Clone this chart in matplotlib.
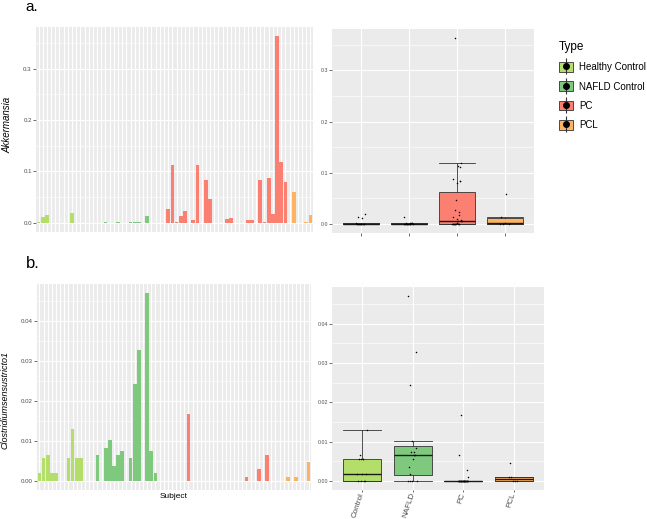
import matplotlib
matplotlib.use('Agg')
import matplotlib.pyplot as plt
from matplotlib.patches import Patch
from matplotlib.lines import Line2D
from matplotlib.legend_handler import HandlerTuple
from matplotlib.ticker import MultipleLocator, FormatStrFormatter
import numpy as np

plt.rcParams['font.family'] = ['Liberation Sans', 'DejaVu Sans']

# groups, in subject order
types = ['Healthy Control', 'NAFLD Control', 'PC', 'PCL']
type_sizes = [13, 16, 31, 6]
box_labels = ['Control', 'NAFLD', 'PC', 'PCL']
colors = ['#B3DE69', '#7FC97F', '#FB8072', '#FDB462']

# relative abundance per subject (66 subjects)
akkermansia = [
    # healthy control
    0.002, 0.012, 0.014, 0, 0, 0, 0, 0, 0.019, 0, 0, 0, 0,
    # NAFLD control
    0, 0, 0, 0.002, 0, 0, 0.001, 0, 0, 0.002, 0.002, 0.002, 0, 0.013, 0, 0,
    # PC
    0, 0, 0.027, 0.112, 0.002, 0.013, 0.022, 0, 0.005, 0.113, 0, 0.083, 0.046,
    0, 0, 0, 0.008, 0.009, 0, 0, 0, 0.005, 0.006, 0, 0.083, 0.002, 0.088,
    0.017, 0.363, 0.119, 0.079,
    # PCL
    0, 0.059, 0, 0, 0.001, 0.014,
]
clostridium = [
    # healthy control
    0.0018, 0.0056, 0.0065, 0.0018, 0.0018, 0, 0, 0.0056, 0.013, 0.0056, 0.0056, 0, 0,
    # NAFLD control
    0, 0.0065, 0, 0.0083, 0.0102, 0.0036, 0.0065, 0.0074, 0, 0.0056, 0.0243, 0.0327,
    0, 0.047, 0.0074, 0.0018,
    # PC
    0, 0, 0, 0, 0, 0, 0, 0.0168, 0, 0,
    0, 0, 0, 0, 0, 0, 0, 0, 0, 0,
    0, 0.0009, 0, 0, 0.0028, 0, 0.0065, 0, 0, 0,
    0,
    # PCL
    0.0009, 0, 0.0009, 0, 0, 0.0046,
]

subject_type = np.repeat(np.arange(len(types)), type_sizes)

W, H = 647, 519
fig = plt.figure(figsize=(W / 100, H / 100), dpi=100)


def px_axes(x0, y0, x1, y1):
    return fig.add_axes([x0 / W, 1 - y1 / H, (x1 - x0) / W, (y1 - y0) / H])


def gg_style(ax, fs):
    ax.set_facecolor('#EBEBEB')
    for s in ax.spines.values():
        s.set_visible(False)
    ax.grid(which='major', color='white', lw=0.8)
    ax.grid(which='minor', axis='y', color='white', lw=0.4)
    ax.set_axisbelow(True)
    ax.tick_params(which='major', length=2, width=0.5, color='#333333',
                   labelsize=fs, labelcolor='#4D4D4D', pad=1)
    ax.tick_params(which='minor', length=0)


def bar_panel(ax, values, step, fmt):
    values = np.array(values)
    x = np.arange(len(values))
    ax.bar(x, values, width=0.9, color=[colors[t] for t in subject_type], zorder=2)
    ax.set_xlim(-0.6, len(values) - 0.4)
    top = values.max()
    ax.set_ylim(-0.05 * top, 1.05 * top)
    ax.set_xticks(x)
    ax.set_xticklabels([])
    gg_style(ax, 4.4)
    ax.tick_params(axis='x', length=0)
    ax.yaxis.set_major_locator(MultipleLocator(step))
    ax.yaxis.set_minor_locator(MultipleLocator(step / 2))
    ax.yaxis.set_major_formatter(FormatStrFormatter(fmt))


def box_panel(ax, values, step, fmt):
    values = np.array(values)
    groups = [values[subject_type == k] for k in range(len(types))]
    pos = np.arange(1, len(types) + 1)
    bp = ax.boxplot(groups, positions=pos, widths=0.75, capwidths=0.75,
                    patch_artist=True, showfliers=False, whis=1.5,
                    medianprops=dict(color='#1A1A1A', lw=1.0),
                    boxprops=dict(edgecolor='#333333', lw=0.6),
                    whiskerprops=dict(color='#333333', lw=0.6),
                    capprops=dict(color='#333333', lw=0.6))
    for patch, c in zip(bp['boxes'], colors):
        patch.set_facecolor(c)
        patch.set_zorder(2)
    for p, g in zip(pos, groups):
        offs = ((np.arange(len(g)) * 0.618) % 1 - 0.5) * 0.2
        ax.scatter(p + offs, g, s=1.2, c='black', zorder=4, linewidths=0)
    ax.set_xlim(0.4, len(types) + 0.6)
    top, bot = values.max(), values.min()
    pad = 0.05 * (top - bot)
    ax.set_ylim(bot - pad, top + pad)
    ax.set_xticks(pos)
    gg_style(ax, 3.8)
    ax.yaxis.set_major_locator(MultipleLocator(step))
    ax.yaxis.set_minor_locator(MultipleLocator(step / 2))
    ax.yaxis.set_major_formatter(FormatStrFormatter(fmt))


# a.
ax1 = px_axes(36, 27, 313, 232)
bar_panel(ax1, akkermansia, 0.1, '%.1f')
ax2 = px_axes(332, 29, 534, 233)
box_panel(ax2, akkermansia, 0.1, '%.1f')
ax2.set_xticklabels([])

# b.
ax3 = px_axes(37, 284, 311, 490)
bar_panel(ax3, clostridium, 0.01, '%.2f')
ax4 = px_axes(332, 287, 544, 490)
box_panel(ax4, clostridium, 0.01, '%.2f')
ax4.set_xticklabels(box_labels, rotation=72, ha='right', va='center',
                    rotation_mode='anchor', fontsize=5.8, color='#4D4D4D')
ax4.tick_params(axis='x', pad=0.5, length=1.5)

fig.text(25 / W, 1 - 11 / H, 'a.', fontsize=11, va='baseline')
fig.text(26 / W, 1 - 268 / H, 'b.', fontsize=12, va='baseline')
fig.text(7 / W, 1 - 125 / H, 'Akkermansia', rotation=90, ha='center', va='center',
         fontsize=7, style='italic')
fig.text(5 / W, 1 - 400 / H, 'Clostridiumsensustricto1', rotation=90, ha='center',
         va='center', fontsize=6.5, style='italic')
fig.text(174 / W, 1 - 497 / H, 'Subject', ha='center', va='center', fontsize=6)

handles = [(Patch(facecolor='#EBEBEB', edgecolor='none'),
            Patch(facecolor=c, edgecolor='#333333', lw=0.6),
            Line2D([], [], marker='|', ms=12, mew=0.8, color='#333333', ls='None'),
            Line2D([], [], marker='o', ms=4, color='black', ls='None'))
           for c in colors]
fig.legend(handles=handles, labels=types, handler_map={tuple: HandlerTuple(ndivide=1)},
           title='Type', loc='upper left', bbox_to_anchor=(554 / W, 1 - 36 / H),
           frameon=False, fontsize=7, title_fontsize=8.5, handlelength=1.5,
           handleheight=1.15, labelspacing=0.95, borderpad=0, handletextpad=0.6,
           alignment='left')

fig.savefig('out.png', dpi=100)
